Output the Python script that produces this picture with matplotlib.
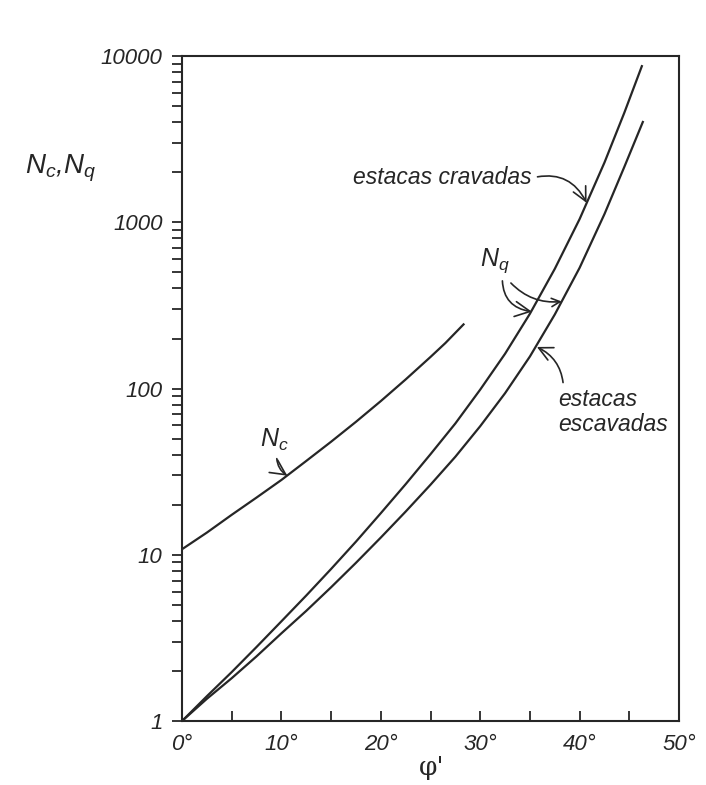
import numpy as np
import matplotlib
matplotlib.use('Agg')
import matplotlib.pyplot as plt
from matplotlib.ticker import FixedLocator, NullFormatter

plt.rcParams['font.family'] = ['Liberation Sans', 'DejaVu Sans']
plt.rcParams['font.style'] = 'italic'
plt.rcParams['mathtext.fontset'] = 'custom'
plt.rcParams['mathtext.it'] = 'Liberation Sans:italic'
plt.rcParams['mathtext.rm'] = 'Liberation Sans:italic'

# friction angle (deg) and bearing capacity factors
phi_nc = [0, 2.5, 5, 7.5, 10, 12.5, 15, 17.5, 20, 22.5, 25, 26.5, 28.4]
nc = [10.8, 13.6, 17.4, 22.1, 28.2, 36.7, 47.9, 63.1, 84.1, 113.5, 155, 188, 246]

phi_nq_crav = [0, 2.5, 5, 7.5, 10, 12.5, 15, 17.5, 20, 22.5, 25, 27.5,
               30, 32.5, 35, 37.5, 40, 42.5, 44.5, 46.3]
nq_crav = [1, 1.41, 1.97, 2.79, 3.98, 5.69, 8.22, 12.0, 17.8, 26.6, 40.3, 61.7,
           98.6, 162, 282, 525, 1047, 2291, 4571, 8830]

phi_nq_esc = [0, 2.5, 5, 7.5, 10, 12.5, 15, 17.5, 20, 22.5, 25, 27.5,
              30, 32.5, 35, 37.5, 40, 42.5, 44.5, 46.4]
nq_esc = [1, 1.36, 1.81, 2.45, 3.37, 4.6, 6.38, 8.95, 12.7, 18.2, 26.4, 38.9,
          59.4, 93.8, 156, 279, 533, 1122, 2158, 4074]

x_ticks = [0, 10, 20, 30, 40, 50]
x_labels = ['0°', '10°', '20°', '30°', '40°', '50°']
y_ticks = [1, 10, 100, 1000, 10000]
y_labels = ['1', '10', '100', '1000', '10000']

ink = '#262626'

fig = plt.figure(figsize=(7.06, 7.85), dpi=100)
ax = fig.add_axes([0.2578, 0.0815, 0.704, 0.847])

for xs, ys in [(phi_nc, nc), (phi_nq_crav, nq_crav), (phi_nq_esc, nq_esc)]:
    ax.plot(xs, ys, color=ink, lw=1.6, solid_capstyle='butt', solid_joinstyle='round')

ax.set_yscale('log')
ax.set_xlim(0, 50)
ax.set_ylim(1, 10000)

for s in ax.spines.values():
    s.set_linewidth(1.5)
    s.set_color(ink)

ax.set_xticks(x_ticks)
ax.set_xticklabels(x_labels, fontsize=16)
ax.xaxis.set_minor_locator(FixedLocator([5, 15, 25, 35, 45]))
ax.tick_params(axis='x', which='both', direction='in', length=7, width=1.3,
               pad=9, colors=ink, top=False)

ax.set_yticks(y_ticks)
ax.set_yticklabels(y_labels, fontsize=16)
minor_y = [m * 10 ** d for d in range(4) for m in range(2, 10)]
ax.yaxis.set_minor_locator(FixedLocator(minor_y))
ax.yaxis.set_minor_formatter(NullFormatter())
ax.tick_params(axis='y', which='both', direction='out', length=7, width=1.3,
               pad=7, colors=ink, right=False)

fig.text(432 / 706, 1 - 768 / 785, "φ'", fontsize=19, family='DejaVu Serif',
         style='normal', ha='center', va='center', color=ink)
fig.text(60 / 706, 1 - 168 / 785, r'$N_c$,$N_q$', fontsize=20,
         ha='center', va='center', color=ink)

def arrow(rad, relpos):
    return dict(arrowstyle='->,head_length=0.6,head_width=0.3', color=ink,
                lw=1.2, connectionstyle='arc3,rad=%s' % rad, relpos=relpos,
                shrinkA=2, shrinkB=0)

ax.annotate('estacas cravadas', xy=(40.7, 1310), xytext=(532 / 706, 1 - 178 / 785),
            textcoords='figure fraction', ha='right', va='center', fontsize=16.5,
            color=ink, arrowprops=arrow(-0.4, (1.0, 0.5)))

ax.annotate('estacas\nescavadas', xy=(35.7, 178), xytext=(558 / 706, 1 - 412 / 785),
            textcoords='figure fraction', ha='left', va='center', fontsize=16.5,
            linespacing=1.1, color=ink, arrowprops=arrow(0.3, (0.05, 1.0)))

ax.annotate(r'$N_c$', xy=(10.6, 29.9), xytext=(274 / 706, 1 - 440 / 785),
            textcoords='figure fraction', ha='center', va='center', fontsize=18,
            color=ink, arrowprops=arrow(0.3, (0.6, 0.0)))

ax.annotate(r'$N_q$', xy=(35.2, 290), xytext=(495 / 706, 1 - 261 / 785),
            textcoords='figure fraction', ha='center', va='center', fontsize=18,
            color=ink, arrowprops=arrow(0.45, (0.75, 0.0)))
ax.annotate('', xy=(38.2, 334), xytext=(509 / 706, 1 - 281 / 785),
            textcoords='figure fraction', arrowprops=arrow(0.25, (0.5, 0.5)))

fig.savefig('out.png', dpi=100)
